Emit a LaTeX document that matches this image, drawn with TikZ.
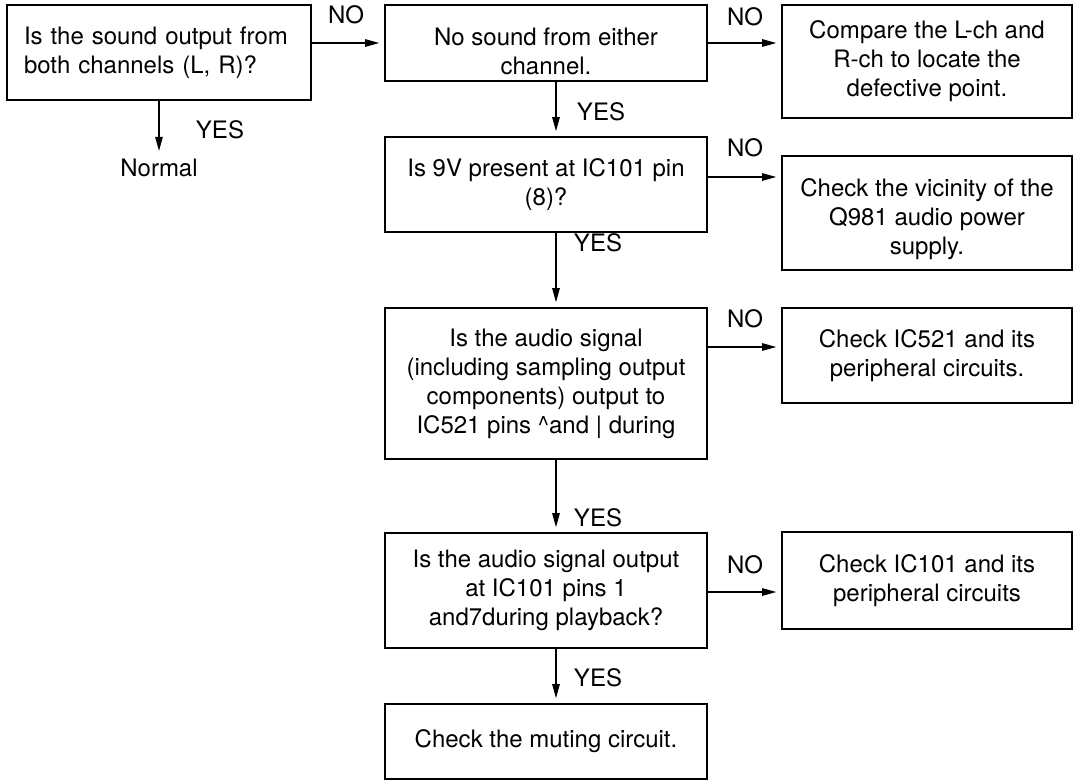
\documentclass[tikz,border=0pt]{standalone}
\usepackage{fontspec}
\setmainfont{TeX Gyre Heros}
\usetikzlibrary{arrows.meta}
\tikzset{
    box/.style={draw, line width=1.6pt, rectangle, align=center, inner sep=4pt},
    leftbox/.style={box, minimum width=322pt},
    rightbox/.style={box, minimum width=290pt},
    arr/.style={line width=1.1pt, -{Triangle[length=14pt,width=7.5pt]}, shorten >=5pt},
    tag/.style={inner sep=0pt},
}
\begin{document}
\begin{tikzpicture}[x=1pt,y=-1pt,font=\fontsize{24}{29}\selectfont]
        \useasboundingbox (0,0) rectangle (1074,780);

        % Draw first question
        \node[box, minimum width=304pt, minimum height=95pt, text width=270pt, inner xsep=17pt, align=left] (A) at (159,52.5) {Is the sound output from\\both channels (L, R)?};
        \node[tag] (N) at (159,168) {Normal};

        % Draw main column
        \node[leftbox, minimum height=76pt] (B) at (546,43) {\rule{0pt}{35pt}No sound from either\\channel.};
        \node[leftbox, minimum height=95pt] (D) at (546,184.5) {Is 9V present at IC101 pin\\(8)?};
        \node[leftbox, minimum height=151pt] (F) at (546,383.5) {Is the audio signal\\(including sampling output\\components) output to\\IC521 pins \textasciicircum and \textbar\ during};
        \node[leftbox, minimum height=115pt] (H) at (546,590.5) {Is the audio signal output\\at IC101 pins 1\\and7during playback?};
        \node[leftbox, minimum height=75pt] (J) at (546,741.5) {Check the muting circuit.};

        % Draw right column
        \node[rightbox, minimum height=113pt] (C) at (927,61.5) {Compare the L-ch and\\R-ch to locate the\\defective point.};
        \node[rightbox, minimum height=114pt] (E) at (927,213) {\rule{0pt}{31pt}Check the vicinity of the\\Q981 audio power\\supply.};
        \node[rightbox, minimum height=95pt] (G) at (927,355.5) {Check IC521 and its\\peripheral circuits.};
        \node[rightbox, minimum height=97pt] (I) at (927,580.5) {Check IC101 and its\\peripheral circuits};

        % Draw YES arrows
        \coordinate (spine) at (556,0);
        \draw[arr, shorten >=8pt] (A.south) -- (N.north);
        \foreach \a/\b in {B/D, D/F, F/H, H/J}
            \draw[arr] (\a.south -| spine) -- (\b.north -| spine);

        % Draw NO arrows
        \foreach \a/\b/\y in {A/B/43, B/C/43, D/E/177, F/G/347, H/I/592}
            \draw[arr] (\a.east |- 0,\y) -- (\b.west |- 0,\y);

        % Draw labels
        \foreach \x/\y [count=\i] in {220/130, 601/112, 598/243, 598/518, 598/678}
            \node[tag] (yes\i) at (\x,\y) {YES};
        \foreach \x/\y [count=\i] in {346/15, 745/17, 745/148, 745/319, 745/565}
            \node[tag] (no\i) at (\x,\y) {NO};
    \end{tikzpicture}
\end{document}
